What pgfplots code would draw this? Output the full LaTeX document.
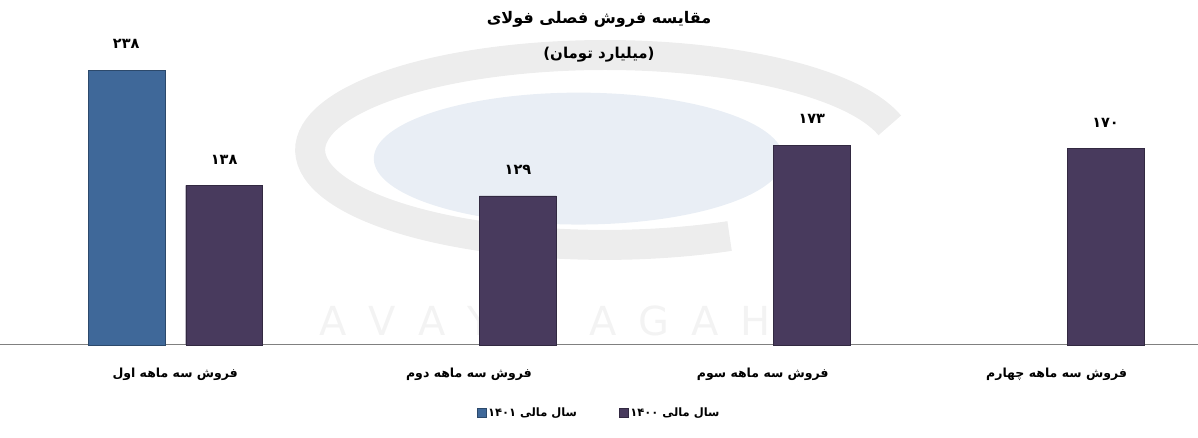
\documentclass[border=0pt]{standalone}
\usepackage{pgfplots}
\pgfplotsset{compat=1.18}
\usepackage{fontspec}
\setmainfont{DejaVu Sans}
\newfontfamily\arabicfont[Script=Arabic]{DejaVu Sans}
\TeXXeTstate=1
\definecolor{blueBar}{HTML}{3F6899}
\definecolor{purpleBar}{HTML}{483A5D}
\definecolor{wmGray}{HTML}{EDEDED}
\definecolor{wmText}{HTML}{F3F3F3}
\definecolor{wmBlue}{HTML}{E9EEF5}
\pgfplotsset{set layers}
\begin{document}
\begin{tikzpicture}
\begin{axis}[
  scale only axis, width=1198pt, height=345pt,
  xmin=-0.595, xmax=3.48, ymin=0, ymax=298.7,
  ybar=21pt, bar width=77pt,
  axis x line=bottom, axis y line=none,
  x axis line style={-, draw=gray, line width=0.8pt},
  xtick={0,1,2,3},
  xticklabels={{\beginR فروش سه ماهه اول\endR},{\beginR فروش سه ماهه دوم\endR},{\beginR فروش سه ماهه سوم\endR},{\beginR فروش سه ماهه چهارم\endR}},
  major tick length=0pt,
  xticklabel style={font=\arabicfont\bfseries\fontsize{12.5}{14}\selectfont, anchor=center, yshift=-30pt},
  nodes near coords, point meta=explicit symbolic,
  every node near coord/.append style={font=\arabicfont\bfseries\fontsize{14.5}{16}\selectfont, anchor=center, yshift=26pt, text=black},
  legend columns=2,
  legend style={at={(axis description cs:0.5,-0.197)}, anchor=center, draw=none, fill=none,
    font=\arabicfont\bfseries\fontsize{11.5}{13}\selectfont,
    /tikz/every even column/.append style={column sep=40pt}},
  legend image code/.code={\fill[#1] (0pt,-4.5pt) rectangle (9pt,4.5pt);},
  clip=false,
]
\begin{pgfonlayer}{axis background}
  \draw[wmGray, line width=30pt] (rel axis cs:0.505,0.565) ++(15:295pt and 95pt) arc[start angle=15, end angle=295, x radius=295pt, y radius=95pt];
  \fill[wmBlue] (rel axis cs:0.483,0.54) ellipse[x radius=205pt, y radius=66pt];
  \node[text=wmText, font=\fontsize{40}{40}\selectfont] at (rel axis cs:0.455,0.07) {A\hspace{22pt}V\hspace{22pt}A\hspace{22pt}Y\hspace{22pt}E\hspace{50pt}A\hspace{22pt}G\hspace{22pt}A\hspace{22pt}H};
\end{pgfonlayer}
\addplot[fill=blueBar, draw=blueBar!70!black, line width=0.4pt] coordinates {(0,238) [۲۳۸]};
\addlegendentry{\beginR سال مالی ۱۴۰۱\endR}
\addplot[fill=purpleBar, draw=purpleBar!70!black, line width=0.4pt] coordinates {(0,138) [۱۳۸] (1,129) [۱۲۹] (2,173) [۱۷۳] (3,170) [۱۷۰]};
\addlegendentry{\beginR سال مالی ۱۴۰۰\endR}
\node[font=\arabicfont\bfseries\fontsize{16}{18}\selectfont] at (rel axis cs:0.5,0.944) {\beginR مقایسه فروش فصلی فولای\endR};
\node[font=\arabicfont\bfseries\fontsize{15}{17}\selectfont] at (rel axis cs:0.5,0.841) {\beginR (میلیارد تومان)\endR};
\path (rel axis cs:0,1) -- (rel axis cs:0,0) -- ++(0,-93pt);
\end{axis}
\end{tikzpicture}
\end{document}
